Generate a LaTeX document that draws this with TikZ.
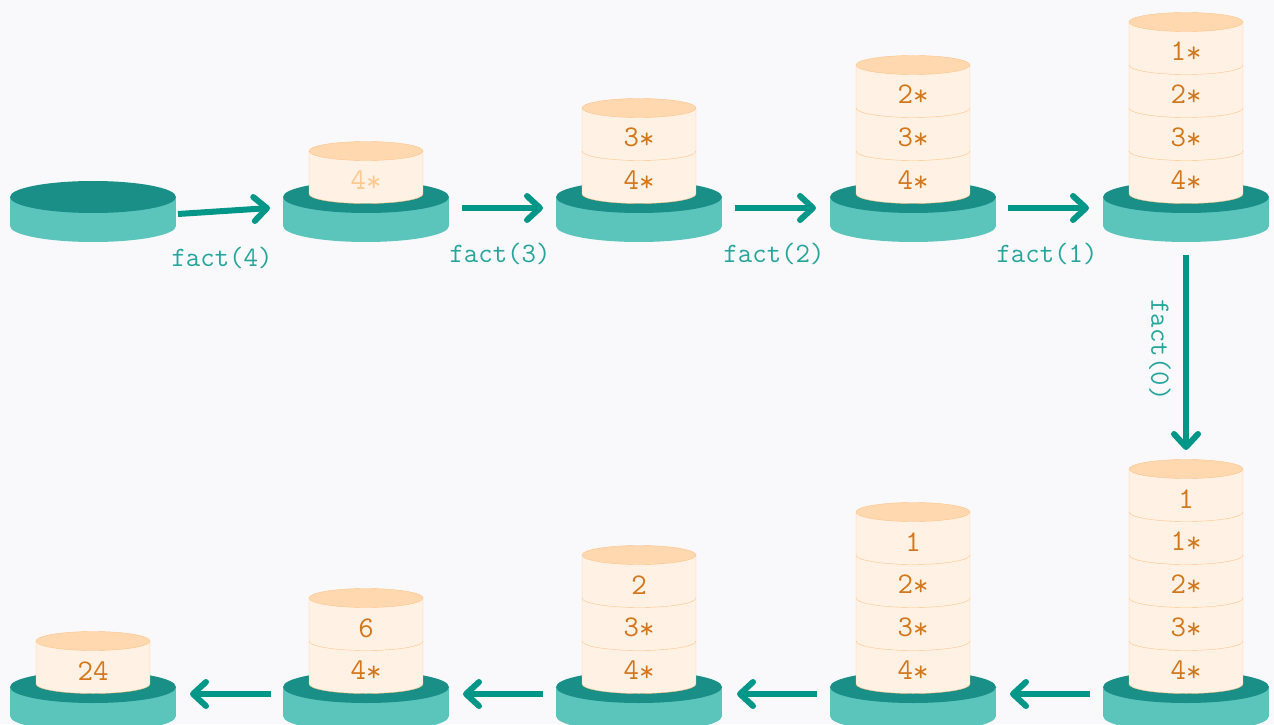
\documentclass[tikz,border=0pt]{standalone}
\usepackage{fontspec}
\usetikzlibrary{arrows.meta}
\definecolor{bg}{HTML}{F9F9FC}
\definecolor{pltop}{HTML}{1A8F87}
\definecolor{plside}{HTML}{5CC5BB}
\definecolor{arrowc}{HTML}{009688}
\definecolor{lblc}{HTML}{26A69A}
\definecolor{cellfill}{HTML}{FFF1E4}
\definecolor{celltop}{HTML}{FFD8B0}
\definecolor{cellline}{HTML}{FFC285}
\definecolor{celltext}{HTML}{D4771A}
\definecolor{fadetext}{HTML}{FFC88E}
\newcommand{\st}{\raisebox{-0.08em}{*}}
% platform: x, Y (center of top ellipse), name
\newcommand{\platformat}[3]{%
  \fill[plside] (#1-83,#2) rectangle (#1+83,#2-29);
  \fill[plside] (#1,#2-29) ellipse[x radius=83pt,y radius=16pt];
  \fill[pltop] (#1,#2) ellipse[x radius=83pt,y radius=16pt];
  \coordinate (#3) at (#1,#2);
}
% stack: x, base Y, n, labels (bottom first), text colour, name
\newcommand{\stackat}[6]{%
  \pgfmathsetmacro{\stt}{#2+43*#3}
  \fill[cellfill] (#1-57,#2) rectangle (#1+57,\stt);
  \fill[cellfill] (#1,#2) ellipse[x radius=57pt,y radius=9.5pt];
  \draw[cellline] (#1-57,\stt) -- (#1-57,#2) arc[start angle=180,end angle=360,x radius=57pt,y radius=9.5pt] -- (#1+57,\stt);
  \foreach \lab [count=\k from 0] in {#4}{
    \pgfmathsetmacro{\ly}{#2+43*\k+13}
    \node[celllbl,text=#5] (#6-\k) at (#1,\ly) {\lab};
    \ifnum\k>0
      \pgfmathsetmacro{\dy}{#2+43*\k}
      \draw[cellline] (#1-57,\dy) arc[start angle=180,end angle=360,x radius=57pt,y radius=9.5pt];
    \fi
  }
  \draw[cellline,fill=celltop] (#1,\stt) ellipse[x radius=57pt,y radius=9.5pt];
}
\begin{document}
\begin{tikzpicture}[x=1pt,y=1pt,
  arr/.style={draw=arrowc, line width=6pt, -{Straight Barb[round,length=13pt,width=24pt]}},
  factlbl/.style={text=lblc, font=\ttfamily\fontsize{28}{28}\selectfont, inner sep=0pt},
  celllbl/.style={font=\ttfamily\fontsize{30}{30}\selectfont, inner sep=0pt}]
\fill[bg] (0,0) rectangle (1274,724);
\useasboundingbox (0,0) rectangle (1274,724);

% top row
\platformat{93}{527}{p1}
\platformat{366}{527}{p2}
\stackat{366}{530}{1}{4\st}{fadetext}{s2}
\platformat{639}{527}{p3}
\stackat{639}{530}{2}{4\st,3\st}{celltext}{s3}
\platformat{913}{527}{p4}
\stackat{913}{530}{3}{4\st,3\st,2\st}{celltext}{s4}
\platformat{1186}{527}{p5}
\stackat{1186}{530}{4}{4\st,3\st,2\st,1\st}{celltext}{s5}

% bottom row
\platformat{1186}{37}{p6}
\stackat{1186}{40}{5}{4\st,3\st,2\st,1\st,1}{celltext}{s6}
\platformat{913}{37}{p7}
\stackat{913}{40}{4}{4\st,3\st,2\st,1}{celltext}{s7}
\platformat{639}{37}{p8}
\stackat{639}{40}{3}{4\st,3\st,2}{celltext}{s8}
\platformat{366}{37}{p9}
\stackat{366}{40}{2}{4\st,6}{celltext}{s9}
\platformat{93}{37}{p10}
\stackat{93}{40}{1}{24}{celltext}{s10}

% arrow end points
\coordinate (a1s) at (178,510); \coordinate (a1e) at (270,516);
\coordinate (a2s) at (462,516); \coordinate (a2e) at (543,516);
\coordinate (a3s) at (735,516); \coordinate (a3e) at (816,516);
\coordinate (a4s) at (1008,516); \coordinate (a4e) at (1089,516);
\coordinate (a5s) at (1186,469); \coordinate (a5e) at (1186,274);
\coordinate (a6s) at (1090,30); \coordinate (a6e) at (1010,30);
\coordinate (a7s) at (817,30); \coordinate (a7e) at (737,30);
\coordinate (a8s) at (543,30); \coordinate (a8e) at (463,30);
\coordinate (a9s) at (271,30); \coordinate (a9e) at (190,30);

\foreach \i in {1,...,9}{\draw[arr] (a\i s) -- (a\i e);}

\node[factlbl] (l1) at (222,466) {fact(4)};
\node[factlbl] (l2) at (500,470) {fact(3)};
\node[factlbl] (l3) at (774,470) {fact(2)};
\node[factlbl] (l4) at (1047,470) {fact(1)};
\node[factlbl,rotate=-90] (l5) at (1160,374) {fact(0)};
\end{tikzpicture}
\end{document}
